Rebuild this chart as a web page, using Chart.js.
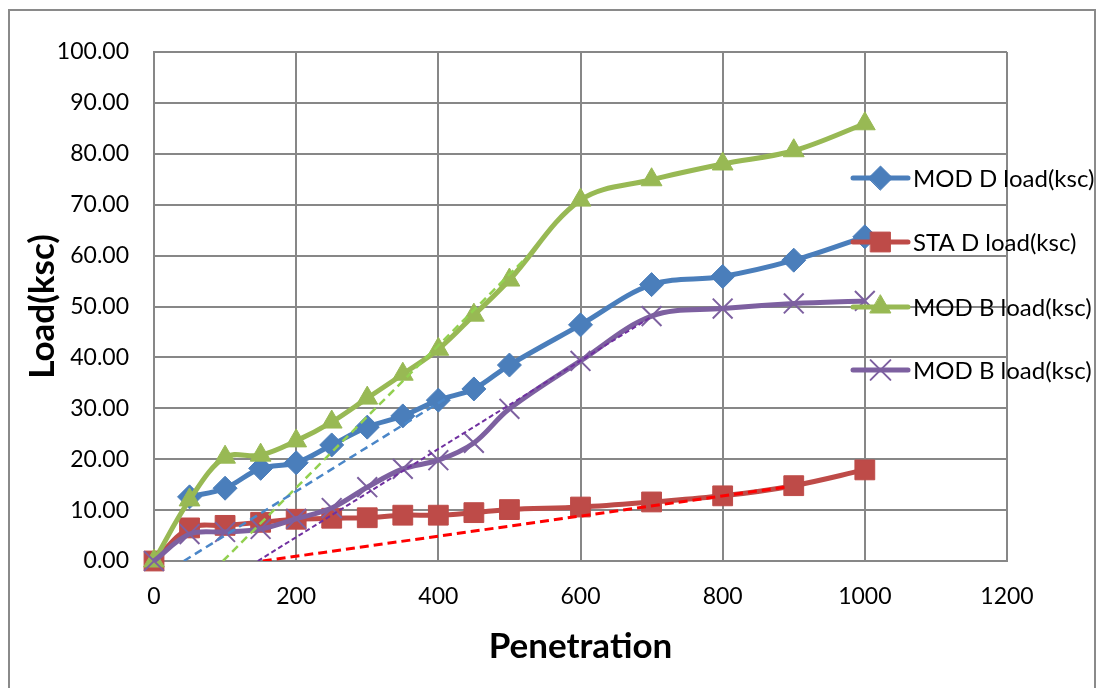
<!DOCTYPE html>
<html>
<head>
<meta charset="utf-8">
<script src="https://cdn.jsdelivr.net/npm/chart.js@4.4.1/dist/chart.umd.min.js"></script>
<style>
  html, body { margin: 0; padding: 0; background: #ffffff; }
  #wrap { position: relative; width: 1103px; height: 688px; }
</style>
</head>
<body>
<div id="wrap"><canvas id="c" width="1103" height="688"></canvas></div>
<script>
// Penetration readings and the measured loads (ksc); MOD D has no reading at 0
const penetration = [0, 50, 100, 150, 200, 250, 300, 350, 400, 450, 500, 600, 700, 800, 900, 1000];
const modDLoad  = [null, 12.6, 14.3, 18.2, 19.3, 22.8, 26.3, 28.5, 31.6, 33.8, 38.5, 46.4, 54.3, 55.9, 59.1, 63.7];
const staDLoad  = [0, 6.5, 7.0, 7.6, 8.2, 8.4, 8.5, 9.0, 9.0, 9.5, 10.1, 10.6, 11.6, 12.8, 14.8, 17.9];
const modBLoad  = [0, 12.0, 20.4, 20.8, 23.6, 27.3, 32.0, 36.7, 41.6, 48.3, 55.2, 70.9, 74.9, 78.0, 80.6, 85.9];
const modBLoad2 = [0, 5.3, 5.7, 6.3, 8.3, 10.4, 14.5, 18.1, 19.8, 23.2, 29.9, 39.3, 48.1, 49.6, 50.6, 51.1];

// Straight tangent lines (start and end)
const modDTangentX  = [42, 410];   const modDTangentY  = [0, 31.9];
const modBTangentX  = [97, 525];   const modBTangentY  = [0, 59.8];
const modB2TangentX = [146, 700];  const modB2TangentY = [0, 48.0];
const staDTangentX  = [153, 892];  const staDTangentY  = [0, 14.6];

const xTicks = [0, 200, 400, 600, 800, 1000, 1200];
const yTicks = [0, 10, 20, 30, 40, 50, 60, 70, 80, 90, 100];
const seriesNames = ['MOD D load(ksc)', 'STA D load(ksc)', 'MOD B load(ksc)', 'MOD B load(ksc)'];

const FONT = 'Lato, "Open Sans", sans-serif';
const GRID = '#878787';

const pts = (xs, ys) => xs.map((x, i) => ({ x: x, y: ys[i] }));

function series(label, ys, color, style, radius, order, fill) {
  return {
    label: label,
    data: pts(penetration, ys),
    borderColor: color,
    backgroundColor: fill,
    borderWidth: 5,
    tension: 0.35,
    pointStyle: style,
    pointRadius: radius,
    pointBorderWidth: style === 'crossRot' ? 2 : 1,
    pointBorderColor: color,
    pointBackgroundColor: fill,
    order: order,
    clip: false,
    isSeries: true
  };
}

function tangent(xs, ys, color, width, dash) {
  return {
    label: '',
    data: pts(xs, ys),
    borderColor: color,
    borderWidth: width,
    borderDash: dash,
    pointRadius: 0,
    tension: 0,
    order: 1,
    isSeries: false
  };
}

const datasets = [
  series(seriesNames[0], modDLoad,  '#4A7EBB', 'rectRot',  12, 8, '#4A7EBB'),
  series(seriesNames[1], staDLoad,  '#BE4B48', 'rect',     14, 7, '#BE4B48'),
  series(seriesNames[2], modBLoad,  '#98B954', 'triangle', 12, 6, '#98B954'),
  series(seriesNames[3], modBLoad2, '#7D60A0', 'crossRot', 14, 5, '#7D60A0'),
  tangent(modDTangentX,  modDTangentY,  '#4A86C8', 2.5, [8, 5]),
  tangent(modBTangentX,  modBTangentY,  '#92D050', 2.5, [8, 5]),
  tangent(modB2TangentX, modB2TangentY, '#7030A0', 2,   [5, 3]),
  tangent(staDTangentX,  staDTangentY,  '#FF0000', 3,   [9, 5])
];

// White page with a thin frame around the chart
const framePlugin = {
  id: 'frame',
  beforeDraw(chart) {
    const ctx = chart.ctx;
    ctx.save();
    ctx.fillStyle = '#ffffff';
    ctx.fillRect(0, 0, chart.width, chart.height);
    ctx.strokeStyle = '#8a8a8a';
    ctx.lineWidth = 2;
    ctx.strokeRect(9, 10, 1086, 720);
    ctx.restore();
  }
};

// Legend on the right: line sample with marker, then label
const legendPlugin = {
  id: 'sideLegend',
  afterDraw(chart) {
    const ctx = chart.ctx;
    const rows = [178, 242, 307, 370];
    const x0 = 853, x1 = 908;
    let row = 0;
    chart.data.datasets.forEach(ds => {
      if (!ds.isSeries) return;
      const y = rows[row++];
      ctx.save();
      ctx.strokeStyle = ds.borderColor;
      ctx.lineWidth = ds.borderWidth;
      ctx.lineCap = 'round';
      ctx.beginPath();
      ctx.moveTo(x0, y);
      ctx.lineTo(x1, y);
      ctx.stroke();
      ctx.fillStyle = ds.pointBackgroundColor;
      ctx.strokeStyle = ds.pointBorderColor;
      ctx.lineWidth = ds.pointBorderWidth;
      Chart.helpers.drawPoint(ctx, {
        pointStyle: ds.pointStyle, radius: ds.pointRadius, rotation: 0, borderWidth: ds.pointBorderWidth
      }, (x0 + x1) / 2, y);
      ctx.fillStyle = '#000000';
      ctx.font = '24px ' + FONT;
      ctx.textBaseline = 'middle';
      ctx.textAlign = 'left';
      ctx.fillText(ds.label, 913, y + 1);
      ctx.restore();
    });
  }
};

new Chart(document.getElementById('c'), {
  type: 'line',
  data: { datasets: datasets },
  options: {
    responsive: false,
    animation: false,
    devicePixelRatio: 1,
    layout: { padding: { left: 0, top: 52, right: 96, bottom: 0 } },
    plugins: { legend: { display: false }, tooltip: { enabled: false } },
    scales: {
      x: {
        type: 'linear',
        min: xTicks[0],
        max: xTicks[xTicks.length - 1],
        afterBuildTicks(scale) { scale.ticks = xTicks.map(v => ({ value: v })); },
        afterFit(scale) { scale.height = 127; },
        ticks: {
          color: '#000000', font: { family: FONT, size: 23 }, padding: 22, maxRotation: 0,
          callback: v => String(v)
        },
        grid: { color: GRID, lineWidth: 2, drawTicks: false },
        border: { color: GRID, width: 2 },
        title: {
          display: true, text: 'Penetration', color: '#000000',
          font: { family: FONT, size: 35, weight: 'bold' }, padding: { top: 0, bottom: 20 }
        }
      },
      y: {
        type: 'linear',
        min: yTicks[0],
        max: yTicks[yTicks.length - 1],
        afterBuildTicks(scale) { scale.ticks = yTicks.map(v => ({ value: v })); },
        afterFit(scale) { scale.width = 154; },
        ticks: {
          color: '#000000', font: { family: FONT, size: 23 }, padding: 25,
          callback: v => Number(v).toFixed(2)
        },
        grid: { color: GRID, lineWidth: 2, drawTicks: false },
        border: { color: GRID, width: 2 },
        title: {
          display: true, text: 'Load(ksc)', color: '#000000',
          font: { family: FONT, size: 35, weight: 'bold' }, padding: { top: 22, bottom: 0 }
        }
      }
    }
  },
  plugins: [framePlugin, legendPlugin]
});
</script>
</body>
</html>
